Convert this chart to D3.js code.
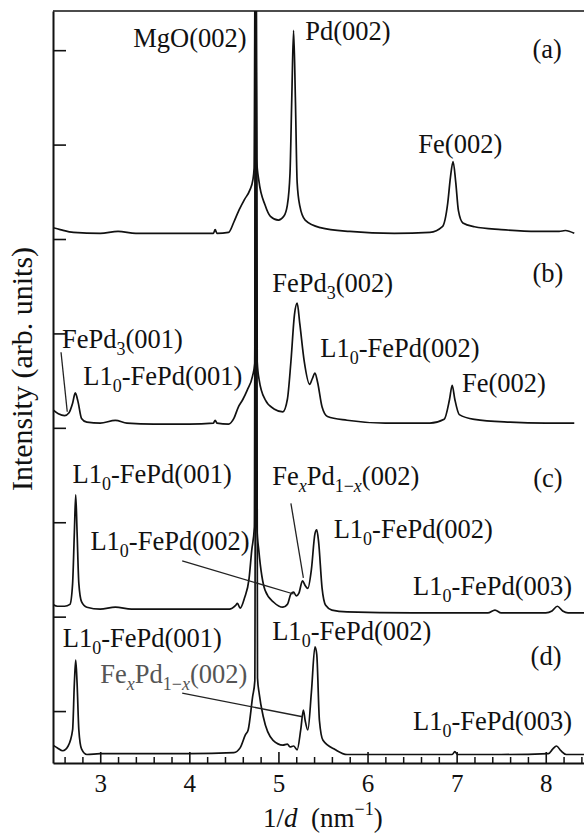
<!DOCTYPE html>
<html>
<head>
<meta charset="utf-8">
<script src="https://cdn.jsdelivr.net/npm/d3@7"></script>
</head>
<body style="margin:0;background:#fff">
<svg width="584" height="836"></svg>
<script>
// spectra: [1/d (nm^-1), intensity (arb. units, stacked)]
var curveA = [[2.47,5.12],[2.55,5.10],[2.70,5.07],[3.0,5.06],[3.2,5.08],[3.4,5.06],[4.0,5.06],[4.27,5.06],[4.29,5.10],[4.31,5.06],
  [4.44,5.07],[4.50,5.18],[4.55,5.29],[4.57,5.33],[4.62,5.42],[4.68,5.52],[4.712,5.62],[4.727,5.75],[4.741,8.5],[4.755,5.85],
  [4.78,5.62],[4.85,5.36],[4.91,5.24],[5.00,5.20],[5.06,5.24],[5.10,5.36],[5.13,5.70],[5.15,6.5],[5.17,7.21],[5.19,6.5],
  [5.21,5.6],[5.24,5.35],[5.30,5.20],[5.47,5.12],[5.8,5.08],[6.3,5.06],[6.70,5.07],[6.84,5.13],[6.90,5.38],[6.93,5.65],
  [6.96,5.82],[6.99,5.6],[7.02,5.3],[7.07,5.17],[7.2,5.13],[7.5,5.10],[7.9,5.08],[8.15,5.08],[8.22,5.09],[8.32,5.06]];

var curveB = [[2.47,3.19],[2.53,3.15],[2.60,3.13],[2.65,3.16],[2.69,3.26],[2.72,3.37],[2.75,3.28],[2.79,3.10],[2.85,3.06],[3.0,3.05],
  [3.17,3.08],[3.3,3.05],[3.6,3.04],[4.0,3.04],[4.27,3.05],[4.29,3.08],[4.31,3.05],[4.44,3.04],[4.50,3.10],[4.55,3.22],
  [4.60,3.30],[4.65,3.40],[4.71,3.55],[4.734,3.68],[4.748,8.5],[4.762,3.70],[4.785,3.50],[4.85,3.30],[4.95,3.20],[5.05,3.17],[5.10,3.30],
  [5.14,3.70],[5.18,4.20],[5.21,4.32],[5.24,4.10],[5.29,3.70],[5.35,3.46],[5.38,3.52],[5.41,3.58],[5.44,3.48],[5.49,3.22],
  [5.55,3.12],[5.77,3.08],[6.2,3.05],[6.7,3.05],[6.86,3.09],[6.92,3.30],[6.95,3.45],[6.98,3.30],[7.03,3.14],[7.2,3.09],
  [7.6,3.06],[8.0,3.05],[8.32,3.05]];

var curveC = [[2.47,1.13],[2.52,1.11],[2.60,1.11],[2.66,1.13],[2.69,1.35],[2.71,1.9],[2.725,2.29],[2.74,1.9],[2.76,1.35],[2.79,1.16],
  [2.85,1.10],[3.0,1.08],[3.17,1.10],[3.35,1.08],[4.0,1.08],[4.45,1.08],[4.52,1.12],[4.54,1.14],[4.57,1.09],[4.62,1.20],
  [4.67,1.40],[4.70,1.70],[4.730,1.95],[4.744,8.5],[4.758,1.95],[4.78,1.70],[4.85,1.28],[4.95,1.15],[5.05,1.10],[5.10,1.13],[5.14,1.24],
  [5.17,1.26],[5.20,1.22],[5.23,1.25],[5.27,1.38],[5.30,1.33],[5.33,1.30],[5.37,1.50],[5.41,1.88],[5.43,1.92],[5.45,1.80],
  [5.49,1.30],[5.53,1.12],[5.60,1.07],[5.77,1.05],[6.5,1.04],[7.35,1.04],[7.43,1.07],[7.5,1.04],[8.0,1.04],[8.07,1.06],
  [8.13,1.11],[8.19,1.06],[8.25,1.04],[8.5,1.04]];

var curveD = [[2.47,-0.36],[2.52,-0.39],[2.58,-0.42],[2.64,-0.37],[2.69,-0.2],[2.71,0.3],[2.725,0.54],[2.74,0.3],[2.76,-0.2],[2.79,-0.40],
  [2.85,-0.46],[3.0,-0.45],[3.3,-0.45],[4.0,-0.45],[4.5,-0.44],[4.57,-0.39],[4.63,-0.25],[4.66,-0.20],[4.71,0.15],[4.735,0.32],
  [4.750,8.5],[4.765,0.35],[4.785,0.18],[4.83,-0.06],[4.94,-0.31],[5.05,-0.36],[5.10,-0.35],[5.13,-0.38],[5.17,-0.37],[5.21,-0.41],[5.25,-0.2],
  [5.28,0.01],[5.30,-0.1],[5.33,-0.20],[5.37,0.2],[5.41,0.68],[5.43,0.6],[5.46,-0.1],[5.50,-0.31],[5.64,-0.41],[5.77,-0.46],
  [6.5,-0.46],[6.95,-0.46],[6.98,-0.43],[7.01,-0.46],[7.5,-0.46],[8.03,-0.45],[8.08,-0.40],[8.12,-0.37],[8.17,-0.42],[8.23,-0.46],
  [8.5,-0.46]];

var xTicks = [3, 4, 5, 6, 7, 8];
var yTicks = [0, 1, 2, 3, 4, 5, 6, 7];

// peak labels: start position in data units, text parts (n = normal, s = subscript, si = italic subscript)
var peakLabels = [
  {x: 3.37, y: 7.03, parts: [['MgO(002)','n']]},
  {x: 5.30, y: 7.11, parts: [['Pd(002)','n']]},
  {x: 6.57, y: 5.91, parts: [['Fe(002)','n']]},
  {x: 4.93, y: 4.44, parts: [['FePd','n'],['3','s'],['(002)','n']]},
  {x: 2.57, y: 3.85, parts: [['FePd','n'],['3','s'],['(001)','n']]},
  {x: 5.47, y: 3.75, parts: [['L1','n'],['0','s'],['-FePd(002)','n']]},
  {x: 2.81, y: 3.45, parts: [['L1','n'],['0','s'],['-FePd(001)','n']]},
  {x: 7.06, y: 3.38, parts: [['Fe(002)','n']]},
  {x: 2.69, y: 2.42, parts: [['L1','n'],['0','s'],['-FePd(001)','n']]},
  {x: 4.93, y: 2.39, parts: [['Fe','n'],['x','si'],['Pd','n'],['1\u2212','s'],['x','si'],['(002)','n']]},
  {x: 5.62, y: 1.83, parts: [['L1','n'],['0','s'],['-FePd(002)','n']]},
  {x: 2.89, y: 1.71, parts: [['L1','n'],['0','s'],['-FePd(002)','n']]},
  {x: 6.51, y: 1.23, parts: [['L1','n'],['0','s'],['-FePd(003)','n']]},
  {x: 4.93, y: 0.75, parts: [['L1','n'],['0','s'],['-FePd(002)','n']]},
  {x: 2.58, y: 0.68, parts: [['L1','n'],['0','s'],['-FePd(001)','n']]},
  {x: 3.00, y: 0.30, parts: [['Fe','n'],['x','si'],['Pd','n'],['1\u2212','s'],['x','si'],['(002)','n']], gray: true},
  {x: 6.51, y: -0.20, parts: [['L1','n'],['0','s'],['-FePd(003)','n']]}
];

var panelLabels = [
  {x: 7.85, y: 6.92, text: '(a)'},
  {x: 7.85, y: 4.54, text: '(b)'},
  {x: 7.86, y: 2.37, text: '(c)'},
  {x: 7.83, y: 0.49, text: '(d)'}
];

// leader lines from label to peak
var leaders = [
  [[2.56, 3.80], [2.63, 3.17]],
  [[3.92, 1.59], [5.17, 1.24]],
  [[5.14, 2.20], [5.28, 1.41]],
  [[3.92, 0.19], [5.27, -0.06]]
];

var serifFont = '"Liberation Serif"';

var svg = d3.select('svg');

var x = d3.scaleLinear().domain([2.47, 8.5]).range([53, 590.3]);
var y = d3.scaleLinear().domain([-0.55, 7.415]).range([763, 11]);

svg.append('clipPath').attr('id', 'plot')
  .append('rect')
  .attr('x', x.range()[0]).attr('y', y.range()[1])
  .attr('width', x.range()[1] - x.range()[0])
  .attr('height', y.range()[0] - y.range()[1]);

var line = d3.line()
  .x(function(d) { return x(d[0]); })
  .y(function(d) { return y(d[1]); })
  .curve(d3.curveMonotoneX);

svg.append('g').attr('clip-path', 'url(#plot)')
  .selectAll('path')
  .data([curveA, curveB, curveC, curveD])
  .enter()
  .append('path')
  .attr('d', line)
  .attr('fill', 'none')
  .attr('stroke', '#111')
  .attr('stroke-width', 1.7)
  .attr('stroke-linejoin', 'round');

svg.selectAll('.leader')
  .data(leaders)
  .enter()
  .append('line')
  .attr('class', 'leader')
  .attr('x1', function(d) { return x(d[0][0]); })
  .attr('y1', function(d) { return y(d[0][1]); })
  .attr('x2', function(d) { return x(d[1][0]); })
  .attr('y2', function(d) { return y(d[1][1]); })
  .attr('stroke', '#222')
  .attr('stroke-width', 1.3);

// axes, ticks point inwards
var minorTicks = d3.range(2.6, 8.45, 0.2).filter(function(v) {
  return Math.abs(v - Math.round(v)) > 0.05;
});

svg.append('g')
  .attr('transform', 'translate(0,' + y.range()[0] + ')')
  .call(d3.axisBottom(x).tickValues(minorTicks).tickSize(-6).tickSizeOuter(0).tickFormat(''))
  .call(function(g) { g.select('.domain').remove(); })
  .selectAll('line').attr('stroke', '#111').attr('stroke-width', 1.5);

var xAxis = svg.append('g')
  .attr('transform', 'translate(0,' + y.range()[0] + ')')
  .call(d3.axisBottom(x).tickValues(xTicks).tickSize(-11).tickSizeOuter(0).tickPadding(11)
    .tickFormat(d3.format('d')));
xAxis.attr('font-family', null).attr('font-size', null);
xAxis.select('.domain').attr('stroke', '#111').attr('stroke-width', 2);
xAxis.selectAll('line').attr('stroke', '#111').attr('stroke-width', 1.6);
xAxis.selectAll('text')
  .style('font-family', serifFont)
  .attr('font-size', 25)
  .attr('fill', '#111');

var yAxis = svg.append('g')
  .attr('transform', 'translate(' + x.range()[0] + ',0)')
  .call(d3.axisLeft(y).tickValues(yTicks).tickSize(-13).tickSizeOuter(0).tickFormat(''));
yAxis.select('.domain').attr('stroke', '#111').attr('stroke-width', 2);
yAxis.selectAll('line').attr('stroke', '#111').attr('stroke-width', 1.6);

// top frame
svg.append('line')
  .attr('x1', x.range()[0]).attr('x2', x.range()[1])
  .attr('y1', y.range()[1]).attr('y2', y.range()[1])
  .attr('stroke', '#111').attr('stroke-width', 1.6);

// labels with subscripts
var labelSel = svg.selectAll('.peak')
  .data(peakLabels)
  .enter()
  .append('text')
  .attr('class', 'peak')
  .attr('x', function(d) { return x(d.x); })
  .attr('y', function(d) { return y(d.y); })
  .attr('font-size', 26.5)
  .style('font-family', serifFont)
  .style('fill', function(d) { return d.gray ? '#555' : '#111'; });

labelSel.each(function(d) {
  var t = d3.select(this);
  var shift = 0;
  d.parts.forEach(function(p) {
    var target = p[1] === 'n' ? 0 : 7;
    var ts = t.append('tspan').text(p[0]).attr('dy', target - shift);
    if (p[1] !== 'n') ts.attr('font-size', 18);
    if (p[1] === 'si') ts.style('font-style', 'italic');
    shift = target;
  });
});

svg.selectAll('.panel')
  .data(panelLabels)
  .enter()
  .append('text')
  .attr('class', 'panel')
  .attr('x', function(d) { return x(d.x); })
  .attr('y', function(d) { return y(d.y); })
  .attr('font-size', 26.5)
  .style('font-family', serifFont)
  .style('fill', '#111')
  .text(function(d) { return d.text; });

// axis titles
var xTitle = svg.append('text')
  .attr('x', 263)
  .attr('y', 827)
  .attr('font-size', 27)
  .style('font-family', serifFont)
  .style('fill', '#111');
xTitle.append('tspan').text('1/');
xTitle.append('tspan').text('d').style('font-style', 'italic');
xTitle.append('tspan').text('\u2002(nm');
xTitle.append('tspan').text('\u22121').attr('font-size', 18).attr('dy', -12);
xTitle.append('tspan').text(')').attr('dy', 12);

svg.append('text')
  .attr('transform', 'translate(32,369)rotate(-90)')
  .attr('text-anchor', 'middle')
  .attr('font-size', 30)
  .style('font-family', serifFont)
  .style('fill', '#111')
  .text('Intensity (arb. units)');
</script>
</body>
</html>
